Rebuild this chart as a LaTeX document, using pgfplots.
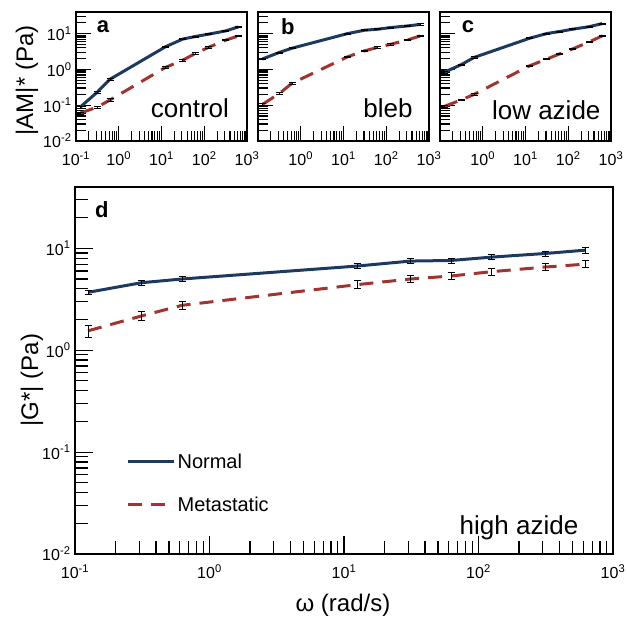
\documentclass[border=0pt]{standalone}
\usepackage{fontspec}
\setmainfont{Liberation Sans}
\usepackage{pgfplots}
\pgfplotsset{compat=1.18}
\definecolor{nblue}{RGB}{28,58,96}
\definecolor{mred}{RGB}{162,52,48}
\newcommand{\tsp}[1]{\textsuperscript{#1}}
\newcommand{\bigtext}{\fontsize{26bp}{30bp}\selectfont}
\newcommand{\panellab}{\fontsize{22bp}{26bp}\selectfont\bfseries}
\pgfplotsset{
  xmin=0.1, xmax=1000, ymin=0.01, ymax=40,
  scale only axis, clip=false,
  xtick={0.1,1,10,100,1000}, ytick={0.01,0.1,1,10},
  minor xtick={0.2,0.3,0.4,0.5,0.6,0.7,0.8,0.9,2,3,4,5,6,7,8,9,20,30,40,50,60,70,80,90,200,300,400,500,600,700,800,900},
  minor ytick={0.02,0.03,0.04,0.05,0.06,0.07,0.08,0.09,0.2,0.3,0.4,0.5,0.6,0.7,0.8,0.9,2,3,4,5,6,7,8,9,20,30},
  xtick pos=bottom, ytick pos=left, tick align=inside,
  axis line style={line width=1.5bp},
  every tick/.style={black, line width=1.2bp},
  tick label style={font=\fontsize{16bp}{19bp}\selectfont},
  xticklabel style={yshift=-7bp},
  yticklabel style={xshift=-1bp},
}
\begin{document}
\begin{tikzpicture}
\useasboundingbox (0,0) rectangle (627bp,628bp);

% ---------- panel a ----------
\begin{axis}[xmode=log, ymode=log, width=171bp, height=129bp, major tick length=15bp, minor tick length=10bp,
  at={(76bp,487bp)}, anchor=south west,
  xticklabels={10\tsp{-1},10\tsp{0},10\tsp{1},10\tsp{2},10\tsp{3}},
  yticklabels={10\tsp{-2},10\tsp{-1},10\tsp{0},10\tsp{1}}]
\addplot[color=nblue, line width=3bp, solid, mark=none,
  error bars/.cd, y dir=both, y explicit,
  error bar style={black, line width=0.8bp, solid},
  error mark options={rotate=90, mark size=3.5bp, black, line width=0.8bp, solid}]
 coordinates {
 (0.125,0.088) +- (0,0.005) (0.3125,0.23) +- (0,0.01) (0.625,0.53) +- (0,0.03)
 (12.5,4.3) +- (0,0.2) (31.25,7.0) +- (0,0.3) (62.5,8.3) +- (0,0.3)
 (125,9.6) +- (0,0.4) (312.5,11.8) +- (0,0.5) (625,15.3) +- (0,0.6)};
\addplot[color=mred, line width=3bp, dash pattern=on 14bp off 9bp, mark=none,
  error bars/.cd, y dir=both, y explicit,
  error bar style={black, line width=0.8bp, solid},
  error mark options={rotate=90, mark size=3.5bp, black, line width=0.8bp, solid}]
 coordinates {
 (0.125,0.06) +- (0,0.004) (0.3125,0.088) +- (0,0.006) (0.625,0.14) +- (0,0.01)
 (12.5,1.14) +- (0,0.06) (31.25,1.8) +- (0,0.08) (62.5,2.8) +- (0,0.1)
 (125,4.1) +- (0,0.15) (312.5,6.5) +- (0,0.25) (625,8.6) +- (0,0.3)};
\node[font=\panellab] at (rel axis cs:0.158,0.89) {a};
\node[font=\bigtext, anchor=east] at (rel axis cs:0.915,0.256) {control};
\node[font=\fontsize{24bp}{28bp}\selectfont, rotate=90] at (rel axis cs:-0.287,0.47) {|AM|* (Pa)};
\end{axis}

% ---------- panel b ----------
\begin{axis}[xmode=log, ymode=log, width=171bp, height=129bp, major tick length=15bp, minor tick length=10bp,
  at={(258bp,487bp)}, anchor=south west,
  xticklabels={,10\tsp{0},10\tsp{1},10\tsp{2},10\tsp{3}},
  yticklabels={,,,}]
\addplot[color=nblue, line width=3bp, solid, mark=none,
  error bars/.cd, y dir=both, y explicit,
  error bar style={black, line width=0.8bp, solid},
  error mark options={rotate=90, mark size=3.5bp, black, line width=0.8bp, solid}]
 coordinates {
 (0.125,1.94) +- (0,0.08) (0.3125,2.96) +- (0,0.1) (0.625,3.9) +- (0,0.15)
 (12.5,10) +- (0,0.4) (31.25,12.4) +- (0,0.5) (62.5,13.2) +- (0,0.5)
 (125,14.7) +- (0,0.5) (312.5,16.3) +- (0,0.6) (625,18) +- (0,0.7)};
\addplot[color=mred, line width=3bp, dash pattern=on 14bp off 9bp, mark=none,
  error bars/.cd, y dir=both, y explicit,
  error bar style={black, line width=0.8bp, solid},
  error mark options={rotate=90, mark size=3.5bp, black, line width=0.8bp, solid}]
 coordinates {
 (0.125,0.104) +- (0,0.006) (0.3125,0.21) +- (0,0.015) (0.625,0.41) +- (0,0.025)
 (12.5,2.25) +- (0,0.12) (31.25,3.3) +- (0,0.15) (62.5,4.1) +- (0,0.18)
 (125,5.0) +- (0,0.2) (312.5,6.6) +- (0,0.25) (625,8.6) +- (0,0.3)};
\node[font=\panellab] at (rel axis cs:0.174,0.89) {b};
\node[font=\bigtext, anchor=east] at (rel axis cs:0.924,0.256) {bleb};
\end{axis}

% ---------- panel c ----------
\begin{axis}[xmode=log, ymode=log, width=171bp, height=129bp, major tick length=15bp, minor tick length=10bp,
  at={(440bp,487bp)}, anchor=south west,
  xticklabels={,10\tsp{0},10\tsp{1},10\tsp{2},10\tsp{3}},
  yticklabels={,,,}]
\addplot[color=nblue, line width=3bp, solid, mark=none,
  error bars/.cd, y dir=both, y explicit,
  error bar style={black, line width=0.8bp, solid},
  error mark options={rotate=90, mark size=3.5bp, black, line width=0.8bp, solid}]
 coordinates {
 (0.125,0.83) +- (0,0.04) (0.3125,1.35) +- (0,0.06) (0.625,2.15) +- (0,0.1)
 (12.5,7.4) +- (0,0.3) (31.25,10) +- (0,0.4) (62.5,11.4) +- (0,0.4)
 (125,13.2) +- (0,0.5) (312.5,15.6) +- (0,0.6) (625,19) +- (0,0.7)};
\addplot[color=mred, line width=3bp, dash pattern=on 14bp off 9bp, mark=none,
  error bars/.cd, y dir=both, y explicit,
  error bar style={black, line width=0.8bp, solid},
  error mark options={rotate=90, mark size=3.5bp, black, line width=0.8bp, solid}]
 coordinates {
 (0.125,0.092) +- (0,0.005) (0.3125,0.14) +- (0,0.008) (0.625,0.2) +- (0,0.012)
 (12.5,1.26) +- (0,0.06) (31.25,1.93) +- (0,0.08) (62.5,2.7) +- (0,0.1)
 (125,3.7) +- (0,0.15) (312.5,5.9) +- (0,0.25) (625,8.6) +- (0,0.3)};
\node[font=\panellab] at (rel axis cs:0.164,0.884) {c};
\node[font=\bigtext, anchor=east] at (rel axis cs:0.959,0.24) {low azide};
\end{axis}

% ---------- panel d ----------
\begin{axis}[xmode=log, ymode=log, width=538bp, height=367bp, at={(75bp,74bp)}, anchor=south west,
  major tick length=18bp, minor tick length=13bp,
  xticklabels={10\tsp{-1},10\tsp{0},10\tsp{1},10\tsp{2},10\tsp{3}},
  yticklabels={10\tsp{-2},10\tsp{-1},10\tsp{0},10\tsp{1}},
  legend style={draw=none, fill=none, at={(0.09,0.285)}, anchor=north west,
    font=\fontsize{20bp}{24bp}\selectfont, row sep=23bp,
    nodes={inner sep=2bp}},
  legend cell align=left,
  legend image code/.code={\draw[#1, line width=3bp] (0bp,0bp) -- (46bp,0bp);}]
\addplot[color=nblue, line width=3bp, solid, mark=none,
  error bars/.cd, y dir=both, y explicit,
  error bar style={black, line width=0.8bp, solid},
  error mark options={rotate=90, mark size=3.5bp, black, line width=0.8bp, solid}]
 coordinates {
 (0.125,3.7) +- (0,0.2) (0.3125,4.6) +- (0,0.25) (0.625,5.0) +- (0,0.3)
 (12.5,6.7) +- (0,0.4) (31.25,7.5) +- (0,0.45) (62.5,7.6) +- (0,0.45)
 (125,8.2) +- (0,0.45) (312.5,8.9) +- (0,0.5) (625,9.6) +- (0,0.6)};
\addlegendentry{Normal}
\addplot[color=mred, line width=3bp, dash pattern=on 14bp off 9bp, mark=none,
  error bars/.cd, y dir=both, y explicit,
  error bar style={black, line width=0.8bp, solid},
  error mark options={rotate=90, mark size=3.5bp, black, line width=0.8bp, solid}]
 coordinates {
 (0.125,1.55) +- (0,0.2) (0.3125,2.17) +- (0,0.22) (0.625,2.76) +- (0,0.25)
 (12.5,4.4) +- (0,0.4) (31.25,5.0) +- (0,0.4) (62.5,5.35) +- (0,0.4)
 (125,5.9) +- (0,0.45) (312.5,6.55) +- (0,0.5) (625,7.0) +- (0,0.55)};
\addlegendentry{Metastatic}
\node[font=\panellab] at (rel axis cs:0.05,0.937) {d};
\node[font=\bigtext, anchor=east] at (rel axis cs:0.942,0.071) {high azide};
\node[font=\fontsize{24bp}{28bp}\selectfont, rotate=90] at (rel axis cs:-0.08,0.474) {|G*| (Pa)};
\node[font=\fontsize{24bp}{28bp}\selectfont] at (rel axis cs:0.498,-0.139) {ω (rad/s)};
\end{axis}
\end{tikzpicture}
\end{document}
